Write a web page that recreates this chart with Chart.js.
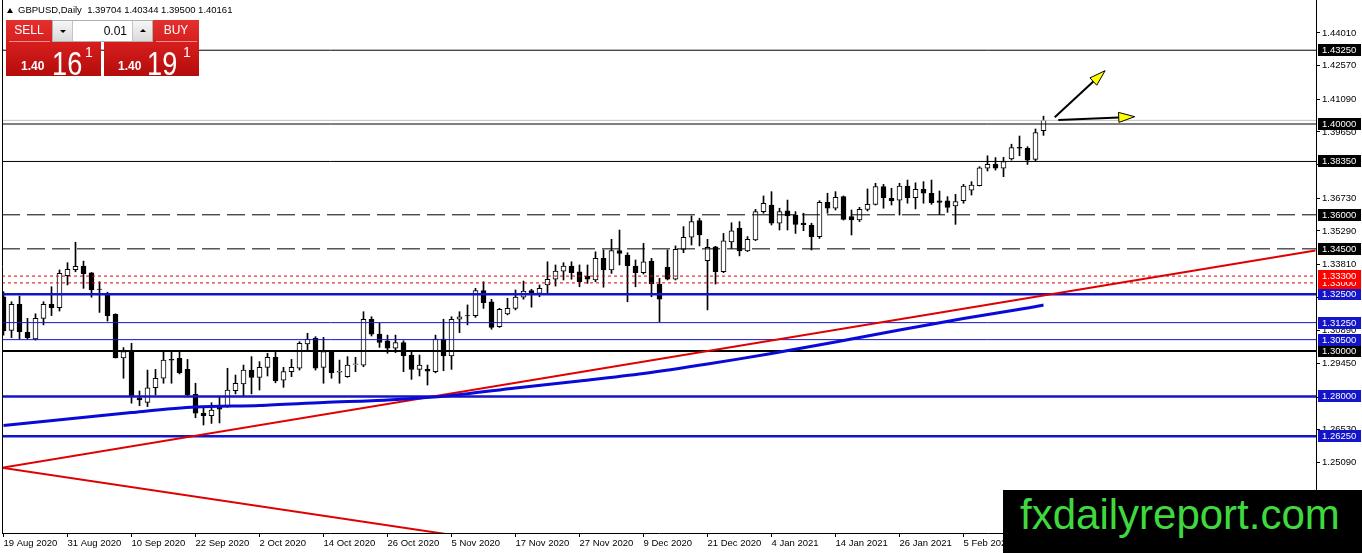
<!DOCTYPE html>
<html>
<head>
<meta charset="utf-8">
<script src="https://cdn.jsdelivr.net/npm/chart.js@4.4.1/dist/chart.umd.min.js"></script>
<style>
  html, body { margin:0; padding:0; background:#fff; }
  body { width:1362px; height:553px; overflow:hidden; position:relative; font-family:'Liberation Sans', Arial, sans-serif; }
  #wrap { position:absolute; left:0; top:0; width:1362px; height:553px; }
  #hdr { position:absolute; left:18px; top:4px; font-size:9.5px; line-height:12px; color:#000; white-space:pre; }
  #tri { position:absolute; left:7px; top:8px; width:0; height:0; border-left:3px solid transparent; border-right:3px solid transparent; border-bottom:5px solid #000; }
  .rbox { position:absolute; top:20px; width:95px; height:56px; background:linear-gradient(to bottom, #e53030 0%, #d41c1c 45%, #b40c0c 100%); color:#fff; }
  .lbl { position:absolute; top:0; height:21px; line-height:21px; text-align:center; font-size:12px; color:#fff; }
  .sep { position:absolute; top:21px; height:1px; background:rgba(255,190,190,0.7); }
  .small { position:absolute; top:40px; font-weight:bold; font-size:12px; line-height:12px; }
  .big { position:absolute; top:26px; font-size:34px; line-height:34px; transform:scaleX(0.8); transform-origin:left top; }
  .sup { position:absolute; top:25px; font-size:14px; line-height:14px; }
  #spin { position:absolute; left:52px; top:20px; width:99px; height:20px; background:#fff; border:1px solid #b0b0b0; }
  .sbtn { position:absolute; top:0; width:19px; height:20px; background:linear-gradient(#f6f6f6,#dadada); }
  .sbtn i { position:absolute; left:7px; width:0; height:0; border-left:3px solid transparent; border-right:3px solid transparent; }
  #inp { position:absolute; left:21px; top:0; width:53px; height:20px; line-height:20px; text-align:right; font-size:12px; color:#000; }
  #logo { position:absolute; left:1003px; top:490px; width:359px; height:63px; background:#000; }
  #logo span { position:absolute; left:17px; top:4px; font-size:42px; line-height:42px; color:#3fd93f; white-space:nowrap; }
</style>
</head>
<body>
<div id="wrap"><canvas id="c" width="1362" height="553"></canvas></div>
<div id="tri"></div>
<div id="hdr"></div>
<div class="rbox" style="left:6px;">
  <div class="lbl" style="left:0;width:46px;">SELL</div>
  <div class="sep" style="left:3px;width:41px;"></div>
  <span class="small" style="left:15px;">1.40</span>
  <span class="big" style="left:46px;">16</span>
  <span class="sup" style="left:79px;">1</span>
</div>
<div class="rbox" style="left:104px;">
  <div class="lbl" style="left:49px;width:46px;">BUY</div>
  <div class="sep" style="left:52px;width:41px;"></div>
  <span class="small" style="left:14px;">1.40</span>
  <span class="big" style="left:43px;">19</span>
  <span class="sup" style="left:79px;">1</span>
</div>
<div id="spin">
  <div class="sbtn" style="left:0;border-right:1px solid #c4c4c4;"><i style="top:9px;border-top:3px solid #000;"></i></div>
  <div id="inp">0.01</div>
  <div class="sbtn" style="right:0;border-left:1px solid #c4c4c4;"><i style="top:8px;border-bottom:3px solid #000;"></i></div>
</div>
<div id="logo"><span>fxdailyreport.com</span></div>

<script>
// ---------------- DATA ----------------
const symbolTitle = "GBPUSD,Daily";
const dates = [
"19 Aug 2020","20 Aug 2020","21 Aug 2020","24 Aug 2020","25 Aug 2020","26 Aug 2020","27 Aug 2020","28 Aug 2020","31 Aug 2020",
"1 Sep 2020","2 Sep 2020","3 Sep 2020","4 Sep 2020","7 Sep 2020","8 Sep 2020","9 Sep 2020","10 Sep 2020","11 Sep 2020","14 Sep 2020","15 Sep 2020","16 Sep 2020","17 Sep 2020","18 Sep 2020","21 Sep 2020","22 Sep 2020","23 Sep 2020","24 Sep 2020","25 Sep 2020","28 Sep 2020","29 Sep 2020","30 Sep 2020",
"1 Oct 2020","2 Oct 2020","5 Oct 2020","6 Oct 2020","7 Oct 2020","8 Oct 2020","9 Oct 2020","12 Oct 2020","13 Oct 2020","14 Oct 2020","15 Oct 2020","16 Oct 2020","19 Oct 2020","20 Oct 2020","21 Oct 2020","22 Oct 2020","23 Oct 2020","26 Oct 2020","27 Oct 2020","28 Oct 2020","29 Oct 2020","30 Oct 2020",
"2 Nov 2020","3 Nov 2020","4 Nov 2020","5 Nov 2020","6 Nov 2020","9 Nov 2020","10 Nov 2020","11 Nov 2020","12 Nov 2020","13 Nov 2020","16 Nov 2020","17 Nov 2020","18 Nov 2020","19 Nov 2020","20 Nov 2020","23 Nov 2020","24 Nov 2020","25 Nov 2020","26 Nov 2020","27 Nov 2020","30 Nov 2020",
"1 Dec 2020","2 Dec 2020","3 Dec 2020","4 Dec 2020","7 Dec 2020","8 Dec 2020","9 Dec 2020","10 Dec 2020","11 Dec 2020","14 Dec 2020","15 Dec 2020","16 Dec 2020","17 Dec 2020","18 Dec 2020","21 Dec 2020","22 Dec 2020","23 Dec 2020","24 Dec 2020","28 Dec 2020","29 Dec 2020","30 Dec 2020","31 Dec 2020",
"4 Jan 2021","5 Jan 2021","6 Jan 2021","7 Jan 2021","8 Jan 2021","11 Jan 2021","12 Jan 2021","13 Jan 2021","14 Jan 2021","15 Jan 2021","18 Jan 2021","19 Jan 2021","20 Jan 2021","21 Jan 2021","22 Jan 2021","25 Jan 2021","26 Jan 2021","27 Jan 2021","28 Jan 2021","29 Jan 2021",
"1 Feb 2021","2 Feb 2021","3 Feb 2021","4 Feb 2021","5 Feb 2021","8 Feb 2021","9 Feb 2021","10 Feb 2021","11 Feb 2021","12 Feb 2021","15 Feb 2021","16 Feb 2021","17 Feb 2021","18 Feb 2021","19 Feb 2021"
];
const opens = [
1.3239,1.3091,1.3206,1.3082,1.3053,1.3144,1.3206,1.3191,1.3332,1.3358,
1.3374,1.3344,1.3273,1.3247,1.3162,1.2970,1.2997,1.2794,1.2774,1.2838,
1.2880,1.2963,1.2968,1.2919,1.2809,1.2726,1.2715,1.2753,1.2755,1.2825,
1.2855,1.2916,1.2884,1.2928,1.2972,1.2872,1.2909,1.2924,1.3031,1.3056,
1.2928,1.2997,1.2907,1.2887,1.2941,1.2938,1.3140,1.3074,1.3045,1.3012,
1.3037,1.2982,1.2919,1.2919,1.2909,1.3052,1.2978,1.3140,1.3156,1.3156,
1.3266,1.3217,1.3107,1.3163,1.3188,1.3237,1.3266,1.3254,1.3291,1.3316,
1.3352,1.3374,1.3349,1.3330,1.3313,1.3408,1.3357,1.3442,1.3423,1.3374,
1.3345,1.3396,1.3294,1.3369,1.3316,1.3448,1.3501,1.3574,1.3398,1.3459,
1.3349,1.3481,1.3541,1.3441,1.3489,1.3614,1.3643,1.3563,1.3617,1.3599,
1.3563,1.3555,1.3504,1.3655,1.3629,1.3680,1.3592,1.3577,1.3624,1.3646,
1.3724,1.3673,1.3665,1.3727,1.3675,1.3712,1.3695,1.3661,1.3661,1.3639,
1.3662,1.3709,1.3728,1.3805,1.3822,1.3805,1.3846,1.3897,1.3893,1.3844,
1.39704
];
const highs = [
1.3261,1.3217,1.3242,1.3144,1.3164,1.3217,1.3283,1.3357,1.3389,1.3479,
1.3396,1.3346,1.3305,1.3259,1.3164,1.3015,1.3034,1.2824,1.2916,1.2919,
1.3000,1.3003,1.2997,1.2963,1.2858,1.2755,1.2772,1.2797,1.2924,1.2894,
1.2938,1.2975,1.2953,1.2990,1.2997,1.2928,1.2963,1.3041,1.3078,1.3063,
1.3060,1.2999,1.2960,1.2975,1.2972,1.3173,1.3151,1.3122,1.3070,1.3070,
1.3045,1.3001,1.2982,1.2938,1.3070,1.3140,1.3151,1.3173,1.3203,1.3276,
1.3305,1.3228,1.3188,1.3232,1.3269,1.3308,1.3272,1.3291,1.3393,1.3379,
1.3389,1.3393,1.3379,1.3379,1.3437,1.3445,1.3492,1.3533,1.3433,1.3401,
1.3474,1.3408,1.3320,1.3445,1.3463,1.3548,1.3595,1.3585,1.3492,1.3461,
1.3518,1.3565,1.3570,1.3504,1.3624,1.3683,1.3702,1.3629,1.3665,1.3614,
1.3607,1.3563,1.3662,1.3695,1.3702,1.3683,1.3621,1.3633,1.3714,1.3739,
1.3734,1.3717,1.3739,1.3753,1.3741,1.3746,1.3753,1.3705,1.3680,1.3690,
1.3734,1.3746,1.3812,1.3860,1.3852,1.3853,1.3911,1.3947,1.3900,1.3978,
1.40344
];
const lows = [
1.3070,1.3059,1.3053,1.3053,1.3048,1.3115,1.3156,1.3176,1.3291,1.3349,
1.3276,1.3237,1.3170,1.3132,1.2969,1.2880,1.2770,1.2759,1.2755,1.2806,
1.2858,1.2858,1.2899,1.2799,1.2706,1.2674,1.2681,1.2683,1.2752,1.2811,
1.2802,1.2811,1.2828,1.2890,1.2860,1.2840,1.2887,1.2916,1.3004,1.2916,
1.2858,1.2880,1.2858,1.2884,1.2909,1.2931,1.3066,1.3016,1.2990,1.2993,
1.2909,1.2875,1.2890,1.2850,1.2904,1.2913,1.2919,1.3081,1.3115,1.3148,
1.3188,1.3096,1.3104,1.3159,1.3181,1.3228,1.3193,1.3239,1.3257,1.3286,
1.3313,1.3316,1.3283,1.3298,1.3305,1.3281,1.3342,1.3379,1.3217,1.3283,
1.3339,1.3239,1.3129,1.3313,1.3313,1.3433,1.3467,1.3463,1.3181,1.3295,
1.3345,1.3452,1.3419,1.3438,1.3486,1.3607,1.3555,1.3533,1.3533,1.3518,
1.3530,1.3445,1.3496,1.3607,1.3621,1.3577,1.3511,1.3570,1.3617,1.3643,
1.3629,1.3643,1.3599,1.3651,1.3626,1.3651,1.3646,1.3602,1.3611,1.3558,
1.3651,1.3687,1.3727,1.3793,1.3797,1.3768,1.3841,1.3860,1.3822,1.3834,
1.39500
];
const closes = [
1.3088,1.3206,1.3085,1.3059,1.3144,1.3206,1.3191,1.3342,1.3360,1.3373,
1.3341,1.3269,1.3271,1.3156,1.2970,1.2997,1.2800,1.2785,1.2838,1.2880,
1.2960,1.2960,1.2904,1.2806,1.2726,1.2715,1.2740,1.2744,1.2828,1.2858,
1.2916,1.2884,1.2928,1.2972,1.2869,1.2909,1.2928,1.3034,1.3053,1.2924,
1.2997,1.2904,1.2910,1.2938,1.2943,1.3140,1.3074,1.3038,1.3012,1.3037,
1.2979,1.2919,1.2938,1.2911,1.3052,1.2978,1.3140,1.3151,1.3155,1.3266,
1.3213,1.3104,1.3184,1.3188,1.3237,1.3264,1.3250,1.3276,1.3316,1.3352,
1.3374,1.3345,1.3305,1.3316,1.3408,1.3357,1.3442,1.3430,1.3376,1.3345,
1.3393,1.3295,1.3228,1.3316,1.3448,1.3501,1.3570,1.3511,1.3457,1.3349,
1.3485,1.3529,1.3441,1.3492,1.3614,1.3651,1.3563,1.3614,1.3595,1.3558,
1.3556,1.3504,1.3655,1.3629,1.3677,1.3580,1.3577,1.3624,1.3646,1.3724,
1.3675,1.3662,1.3727,1.3675,1.3712,1.3695,1.3653,1.3655,1.3633,1.3658,
1.3727,1.3731,1.3807,1.3822,1.3805,1.3834,1.3896,1.3893,1.3841,1.3962,
1.40161
];
// 200-day moving average, read at sample bars
const maIdx  = [0, 8, 16, 24, 32, 40, 48, 56, 64, 72, 80, 88, 96, 104, 112, 120, 128, 130];
const maVals = [1.26718,1.27004,1.27291,1.27533,1.27599,1.27731,1.27841,1.28040,1.28370,1.28678,1.29009,1.29427,1.29890,1.30396,1.30925,1.31432,1.31894,1.32026];
// horizontal levels
const solidBlackLevels = [1.4325, 1.4000, 1.3835];
const thickBlackLevels = [1.3000];
const dashedLevels     = [1.3600, 1.3450];
const dottedRedLevels  = [1.3300, 1.3330];
const thickBlueLevels  = [1.3250, 1.2800, 1.2625];
const thinBlueLevels   = [1.3125, 1.3050];
// trend lines: [bar index, price] anchor pairs
const trendUpX   = [-0.2, 164];
const trendUpY   = [1.2486, 1.3443];
const trendDownX = [-0.2, 56];
const trendDownY = [1.2486, 1.2190];
// arrows: start and tip in [bar index, price]
const arrowFromX = [131.4, 131.85];
const arrowFromY = [1.40295, 1.40176];
const arrowToX   = [137.7, 141.4];
const arrowToY   = [1.42348, 1.40322];
// axis ticks
const yTicks = [1.44010,1.42570,1.41090,1.39650,1.38210,1.36730,1.35290,1.33810,1.32370,1.30890,1.29450,1.27970,1.26530,1.25090];
const xTickIdx = [0,8,16,24,32,40,48,56,64,72,80,88,96,104,112,120];

// ---------------- VIEW ----------------
const X_MIN = -0.1875, X_MAX = 164.0625;
const Y_MIN = 1.30 - 182/2270, Y_MAX = 1.30 + 351/2270;
const FONT = "'Liberation Sans', Arial, sans-serif";
const BLUE = '#1414c8';
const RED = '#e00000';
const last = closes.length - 1;

document.getElementById('hdr').textContent =
  symbolTitle + "  " + [opens[last], highs[last], lows[last], closes[last]].map(v => v.toFixed(5)).join(' ');

const idx = dates.map((d, i) => i);
function hline(v, color, width, dash) {
  return { type:'line', data:[{x:X_MIN, y:v}, {x:X_MAX, y:v}], borderColor:color, borderWidth:width,
           borderDash:dash || [], pointRadius:0, order:1, clip:0, fill:false };
}
const datasets = [];
datasets.push({ type:'bar', label:'wick', data: idx.map(i => ({x:i, y:[lows[i], highs[i]]})),
  backgroundColor:'#000', borderWidth:0, barThickness:1, grouped:false, order:4 });
datasets.push({ type:'bar', label:'body', data: idx.map(i => ({x:i, y:[opens[i], closes[i]]})),
  backgroundColor: idx.map(i => closes[i] >= opens[i] ? '#ffffff' : '#000000'),
  borderColor:'#000', borderWidth:1, borderSkipped:false, barThickness:5, grouped:false, order:3 });
datasets.push(hline(closes[last], '#c0c0c0', 1));
solidBlackLevels.forEach(v => datasets.push(hline(v, '#000', 1)));
thickBlackLevels.forEach(v => datasets.push(hline(v, '#000', 2)));
dashedLevels.forEach(v => datasets.push(hline(v, '#000', 1, [18, 7])));
dottedRedLevels.forEach(v => datasets.push(hline(v, RED, 1, [3, 3])));
thickBlueLevels.forEach(v => datasets.push(hline(v, BLUE, 2.5)));
thinBlueLevels.forEach(v => datasets.push(hline(v, BLUE, 1)));
datasets.push({ type:'line', data: maIdx.map((x, k) => ({x, y:maVals[k]})), borderColor:'#0a0ad8', borderWidth:3,
  pointRadius:0, tension:0.3, order:0, clip:0 });
datasets.push({ type:'line', data: trendUpX.map((x, k) => ({x, y:trendUpY[k]})), borderColor:RED, borderWidth:2, pointRadius:0, order:0, clip:0 });
datasets.push({ type:'line', data: trendDownX.map((x, k) => ({x, y:trendDownY[k]})), borderColor:RED, borderWidth:2, pointRadius:0, order:0, clip:0 });

const levelBoxes = [
  { vals: solidBlackLevels, bg:'#000' },
  { vals: thickBlackLevels, bg:'#000' },
  { vals: dashedLevels, bg:'#000' },
  { vals: thinBlueLevels, bg:BLUE },
  { vals: thickBlueLevels, bg:BLUE },
  { vals: dottedRedLevels, bg:'#ff0000' }
];

const framePlugin = {
  id:'frame',
  afterDatasetsDraw(chart) {
    const {ctx, chartArea:a, scales} = chart;
    ctx.save();
    ctx.strokeStyle = '#000'; ctx.lineWidth = 1;
    ctx.beginPath(); ctx.moveTo(a.left + 0.5, a.top); ctx.lineTo(a.left + 0.5, a.bottom); ctx.stroke();
    arrowFromX.forEach((fx, k) => {
      const x0 = scales.x.getPixelForValue(fx), y0 = scales.y.getPixelForValue(arrowFromY[k]);
      const x1 = scales.x.getPixelForValue(arrowToX[k]), y1 = scales.y.getPixelForValue(arrowToY[k]);
      const ang = Math.atan2(y1 - y0, x1 - x0);
      const L = 16, W = 5;
      const bx = x1 - L * Math.cos(ang), by = y1 - L * Math.sin(ang);
      ctx.strokeStyle = '#000'; ctx.lineWidth = 2;
      ctx.beginPath(); ctx.moveTo(x0, y0); ctx.lineTo(bx, by); ctx.stroke();
      ctx.beginPath();
      ctx.moveTo(x1, y1);
      ctx.lineTo(bx + W * Math.sin(ang), by - W * Math.cos(ang));
      ctx.lineTo(bx - W * Math.sin(ang), by + W * Math.cos(ang));
      ctx.closePath();
      ctx.fillStyle = '#ffff00'; ctx.fill();
      ctx.lineWidth = 1; ctx.strokeStyle = '#000'; ctx.stroke();
    });
    ctx.restore();
  },
  afterDraw(chart) {
    const {ctx, chartArea:a, scales} = chart;
    ctx.save();
    ctx.font = '9.5px ' + FONT;
    ctx.textBaseline = 'middle';
    ctx.textAlign = 'left';
    levelBoxes.forEach(g => {
      g.vals.forEach(v => {
        const y = scales.y.getPixelForValue(v);
        ctx.fillStyle = g.bg;
        ctx.fillRect(a.right + 2, Math.round(y) - 6, 43, 12);
        ctx.fillStyle = '#fff';
        ctx.fillText(v.toFixed(5), a.right + 6, Math.round(y) + 0.5);
      });
    });
    ctx.restore();
  }
};

function noPad(s) { s.paddingTop = 0; s.paddingBottom = 0; s.paddingLeft = 0; s.paddingRight = 0; }

Chart.defaults.font.family = FONT;
new Chart(document.getElementById('c'), {
  type:'bar',
  data:{ datasets },
  options:{
    responsive:false, animation:false, events:[],
    layout:{ padding:{ left:2, top:0, right:0, bottom:0 } },
    plugins:{ legend:{display:false}, tooltip:{enabled:false} },
    scales:{
      x:{
        type:'linear', min:X_MIN, max:X_MAX, offset:false,
        grid:{ display:true, drawOnChartArea:false, drawTicks:true, tickLength:4, color:'#000', offset:false },
        border:{ display:true, color:'#000', width:1 },
        ticks:{ autoSkip:false, maxRotation:0, minRotation:0, align:'start', padding:1, color:'#000',
                font:{ size:9.5 }, callback:(v) => dates[v] || '' },
        afterBuildTicks:(s) => { s.ticks = xTickIdx.map(v => ({value:v})); },
        afterFit:(s) => { s.height = 20; noPad(s); }
      },
      y:{
        type:'linear', position:'right', min:Y_MIN, max:Y_MAX, beginAtZero:false,
        grid:{ display:true, drawOnChartArea:false, drawTicks:true, tickLength:4, color:'#000' },
        border:{ display:true, color:'#000', width:1 },
        ticks:{ autoSkip:false, padding:2, color:'#000', font:{ size:9.5 }, crossAlign:'near',
                callback:(v) => Number(v).toFixed(5) },
        afterBuildTicks:(s) => { s.ticks = yTicks.map(v => ({value:v})); },
        afterFit:(s) => { s.width = 46; noPad(s); }
      }
    }
  },
  plugins:[framePlugin]
});
</script>
</body>
</html>
